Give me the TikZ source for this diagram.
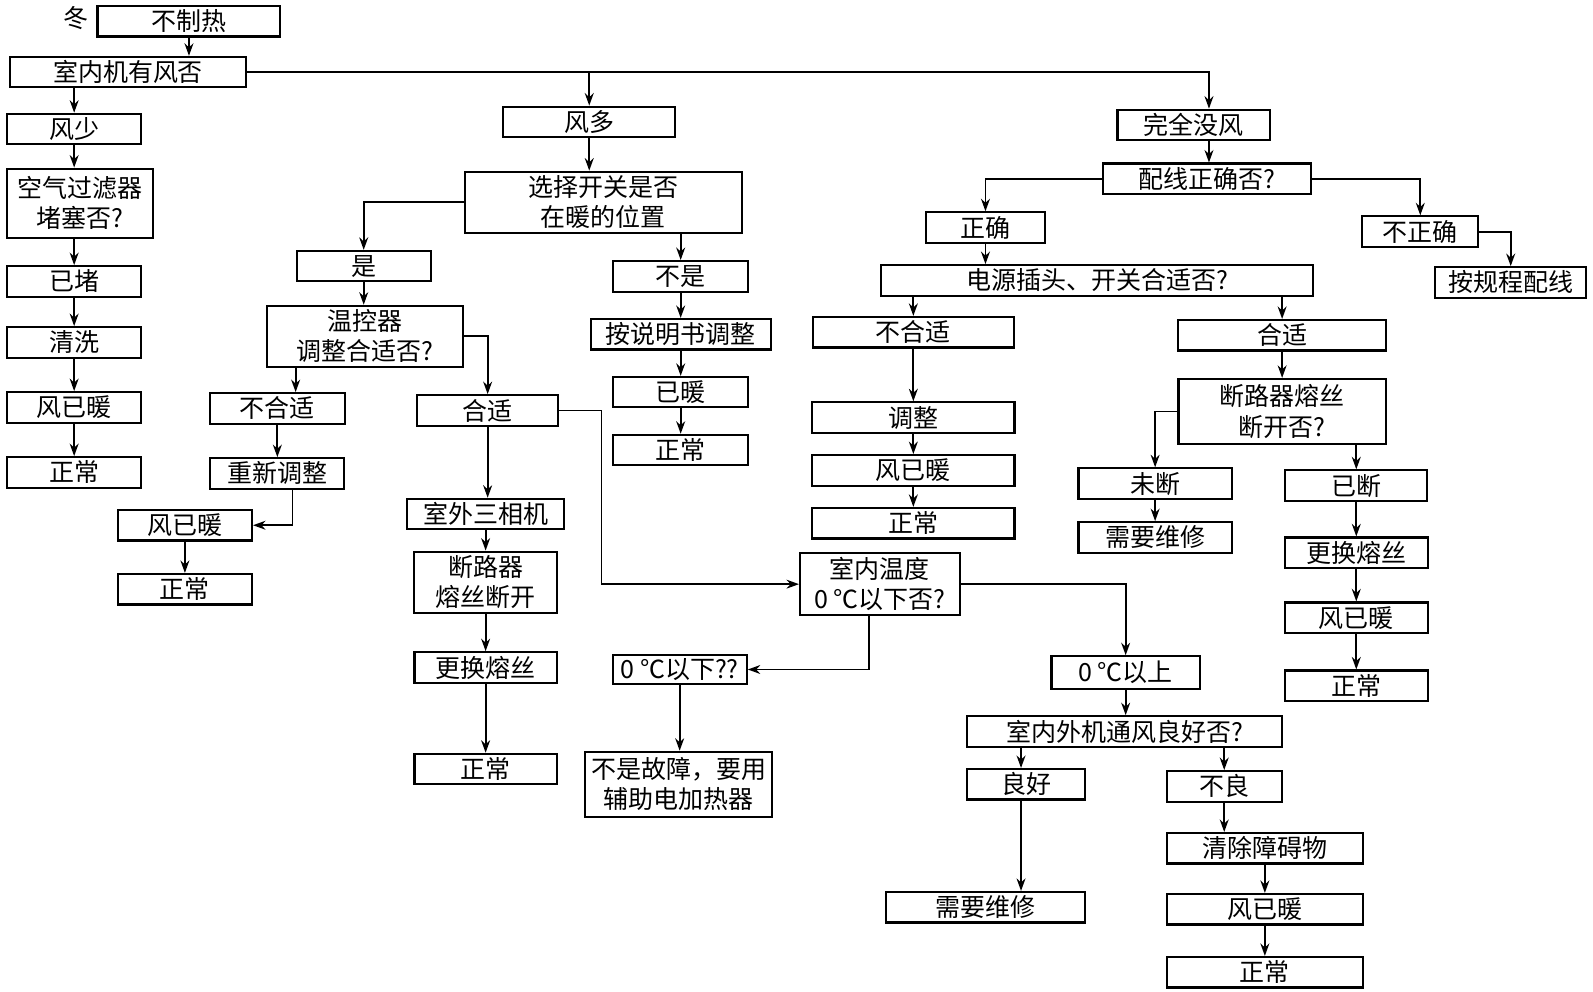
\documentclass[tikz,border=0pt]{standalone}
\usepackage{fontspec}
\setmainfont{Noto Sans CJK SC}
\usetikzlibrary{arrows.meta}

\begin{document}
\begin{tikzpicture}[x=0.2mm, y=-0.2mm,
    every node/.style={font=\fontsize{14}{17}\selectfont},
    box/.style={draw, line width=1.2pt, align=center, inner sep=1pt, minimum height=6mm},
    wd/.style={minimum width=#1*0.2mm},
    ht/.style={minimum height=#1*0.2mm},
    arr/.style={line width=1pt, -{Stealth[length=7pt,width=5pt]}}]
  \useasboundingbox (0,0) rectangle (1568,976);

  % left branch
  \node (dong) at (75,18) {冬};
  \node[box, wd=180] (bzr) at (186,21) {不制热};
  \node[box, wd=232] (snj) at (126,71) {室内机有风否};
  \node[box, wd=132] (fs) at (73,127) {风少};
  \node[box, wd=144, ht=68] (kq) at (79,200) {空气过滤器\\堵塞否?};
  \node[box, wd=132] (yd1) at (73,277) {已堵};
  \node[box, wd=132] (qx) at (73,337) {清洗};
  \node[box, wd=132] (fyn1) at (73,401) {风已暖};
  \node[box, wd=132] (zc1) at (73,465) {正常};

  % middle branch
  \node[box, wd=169] (fd) at (580,120) {风多};
  \node[box, wd=272, ht=60] (xz) at (594,199) {选择开关是否\\在暖的位置};
  \node[box, wd=132] (shi) at (358,262) {是};
  \node[box, wd=133] (bs) at (670,272) {不是};
  \node[box, wd=193, ht=60] (wkq) at (359,331) {温控器\\调整合适否?};
  \node[box, wd=177] (asm) at (670,329) {按说明书调整};
  \node[box, wd=133] (yn) at (670,386) {已暖};
  \node[box, wd=133] (zc2) at (670,443) {正常};
  \node[box, wd=133] (bhs1) at (273,402) {不合适};
  \node[box, wd=132] (cxtz) at (273,466) {重新调整};
  \node[box, wd=132] (fyn2) at (182,517) {风已暖};
  \node[box, wd=132] (zc3) at (182,580) {正常};
  \node[box, wd=139] (hs1) at (480,404) {合适};
  \node[box, wd=155] (swj) at (478,506) {室外三相机};
  \node[box, wd=141, ht=60] (dlq1) at (478,573) {断路器\\熔丝断开};
  \node[box, wd=140] (ghrs1) at (478,657) {更换熔丝};
  \node[box, wd=140] (zc4) at (478,757) {正常};
  \node[box, wd=132, ht=28] (lx) at (669,659) {0 ℃以下??};
  \node[box, wd=184, ht=64] (bsgz) at (668,772) {不是故障，要用\\辅助电加热器};
  \node[box, wd=157, ht=61] (snwd) at (866,575) {室内温度\\0 ℃以下否?};
  \node[box, wd=146, ht=32] (ls) at (1108,662) {0 ℃以上};
  \node[box, wd=310] (tf) at (1107,720) {室内外机通风良好否?};
  \node[box, wd=116] (lh) at (1010,772) {良好};
  \node[box, wd=196] (xy2) at (970,893) {需要维修};
  \node[box, wd=113] (bl) at (1205,774) {不良};
  \node[box, wd=193] (qc) at (1245,835) {清除障碍物};
  \node[box, wd=193] (fyn4) at (1245,895) {风已暖};
  \node[box, wd=193] (zc6) at (1245,957) {正常};

  % right branch
  \node[box, wd=150] (wqmf) at (1175,123) {完全没风};
  \node[box, wd=204] (px) at (1188,176) {配线正确否?};
  \node[box, wd=117] (zq) at (970,224) {正确};
  \node[box, wd=114] (bzq) at (1398,228) {不正确};
  \node[box, wd=149] (agc) at (1487,278) {按规程配线};
  \node[box, wd=425] (dy) at (1080,276) {电源插头、开关合适否?};
  \node[box, wd=198] (bhs2) at (899,327) {不合适};
  \node[box, wd=199] (tz) at (899,411) {调整};
  \node[box, wd=199] (fyn3) at (899,463) {风已暖};
  \node[box, wd=199] (zc5) at (899,515) {正常};
  \node[box, wd=205] (hs2) at (1262,330) {合适};
  \node[box, wd=204, ht=64] (dlq2) at (1262,405) {断路器熔丝\\断开否?};
  \node[box, wd=151] (wdn) at (1137,476) {未断};
  \node[box, wd=151] (xy1) at (1137,529) {需要维修};
  \node[box, wd=140] (yd2) at (1335,478) {已断};
  \node[box, wd=141] (ghrs2) at (1335,544) {更换熔丝};
  \node[box, wd=141] (fyn5) at (1335,608) {风已暖};
  \node[box, wd=141] (zc7) at (1335,675) {正常};

  % connectors, left
  \draw[arr] (bzr.south) -- (bzr.south |- snj.north);
  \draw[arr] (fs.north |- snj.south) -- (fs.north);
  \draw[arr] (fs.south) -- (fs.south |- kq.north);
  \draw[arr] (yd1.north |- kq.south) -- (yd1.north);
  \draw[arr] (yd1) -- (qx);
  \draw[arr] (qx) -- (fyn1);
  \draw[arr] (fyn1) -- (zc1);

  % connectors, middle
  \draw[arr] (snj.east) -| (1190,0 |- wqmf.north);
  \draw[arr] (fd.north |- snj.east) -- (fd.north);
  \draw[arr] (fd.south) -- (fd.south |- xz.north);
  \draw[arr] (xz.west) -| (shi.north);
  \draw[arr] (bs.north |- xz.south) -- (bs.north);
  \draw[arr] (bs) -- (asm);
  \draw[arr] (asm) -- (yn);
  \draw[arr] (yn) -- (zc2);
  \draw[arr] (shi.south) -- (shi.south |- wkq.north);
  \draw[arr] (291,0 |- wkq.south) -- (291,0 |- bhs1.north);
  \draw[arr] (bhs1) -- (cxtz);
  \draw[arr] (288,0 |- cxtz.south) |- (fyn2.east);
  \draw[arr] (fyn2) -- (zc3);
  \draw[arr] (wkq.east) -| (hs1.north);
  \draw[arr] (hs1.south) -- (hs1.south |- swj.north);
  \draw[arr] (swj) -- (dlq1);
  \draw[arr] (dlq1) -- (ghrs1);
  \draw[arr] (ghrs1) -- (zc4);
  \draw[arr] (hs1.east) -- (592,0 |- hs1.east) |- (snwd.west);
  \draw[arr] (855,0 |- snwd.south) |- (lx.east);
  \draw[arr] (lx.south) -- (lx.south |- bsgz.north);
  \draw[arr] (snwd.east) -| (ls.north);
  \draw[arr] (ls.south) -- (ls.south |- tf.north);
  \draw[arr] (1005,0 |- tf.south) -- (1005,0 |- lh.north);
  \draw[arr] (1005,0 |- lh.south) -- (1005,0 |- xy2.north);
  \draw[arr] (bl.north |- tf.south) -- (bl.north);
  \draw[arr] (bl.south) -- (bl.south |- qc.north);
  \draw[arr] (qc) -- (fyn4);
  \draw[arr] (fyn4) -- (zc6);

  % connectors, right
  \draw[arr] (1190,0 |- wqmf.south) -- (1190,0 |- px.north);
  \draw[arr] (px.west) -| (zq.north);
  \draw[arr] (px.east) -| (bzq.north);
  \draw[arr] (bzq.east) -| (agc.north);
  \draw[arr] (zq.south) -- (zq.south |- dy.north);
  \draw[arr] (bhs2.north |- dy.south) -- (bhs2.north);
  \draw[arr] (bhs2) -- (tz);
  \draw[arr] (tz) -- (fyn3);
  \draw[arr] (fyn3) -- (zc5);
  \draw[arr] (hs2.north |- dy.south) -- (hs2.north);
  \draw[arr] (hs2) -- (dlq2);
  \draw[arr] (dlq2.west) -| (wdn.north);
  \draw[arr] (wdn) -- (xy1);
  \draw[arr] (yd2.north |- dlq2.south) -- (yd2.north);
  \draw[arr] (yd2) -- (ghrs2);
  \draw[arr] (ghrs2) -- (fyn5);
  \draw[arr] (fyn5) -- (zc7);
\end{tikzpicture}
\end{document}
